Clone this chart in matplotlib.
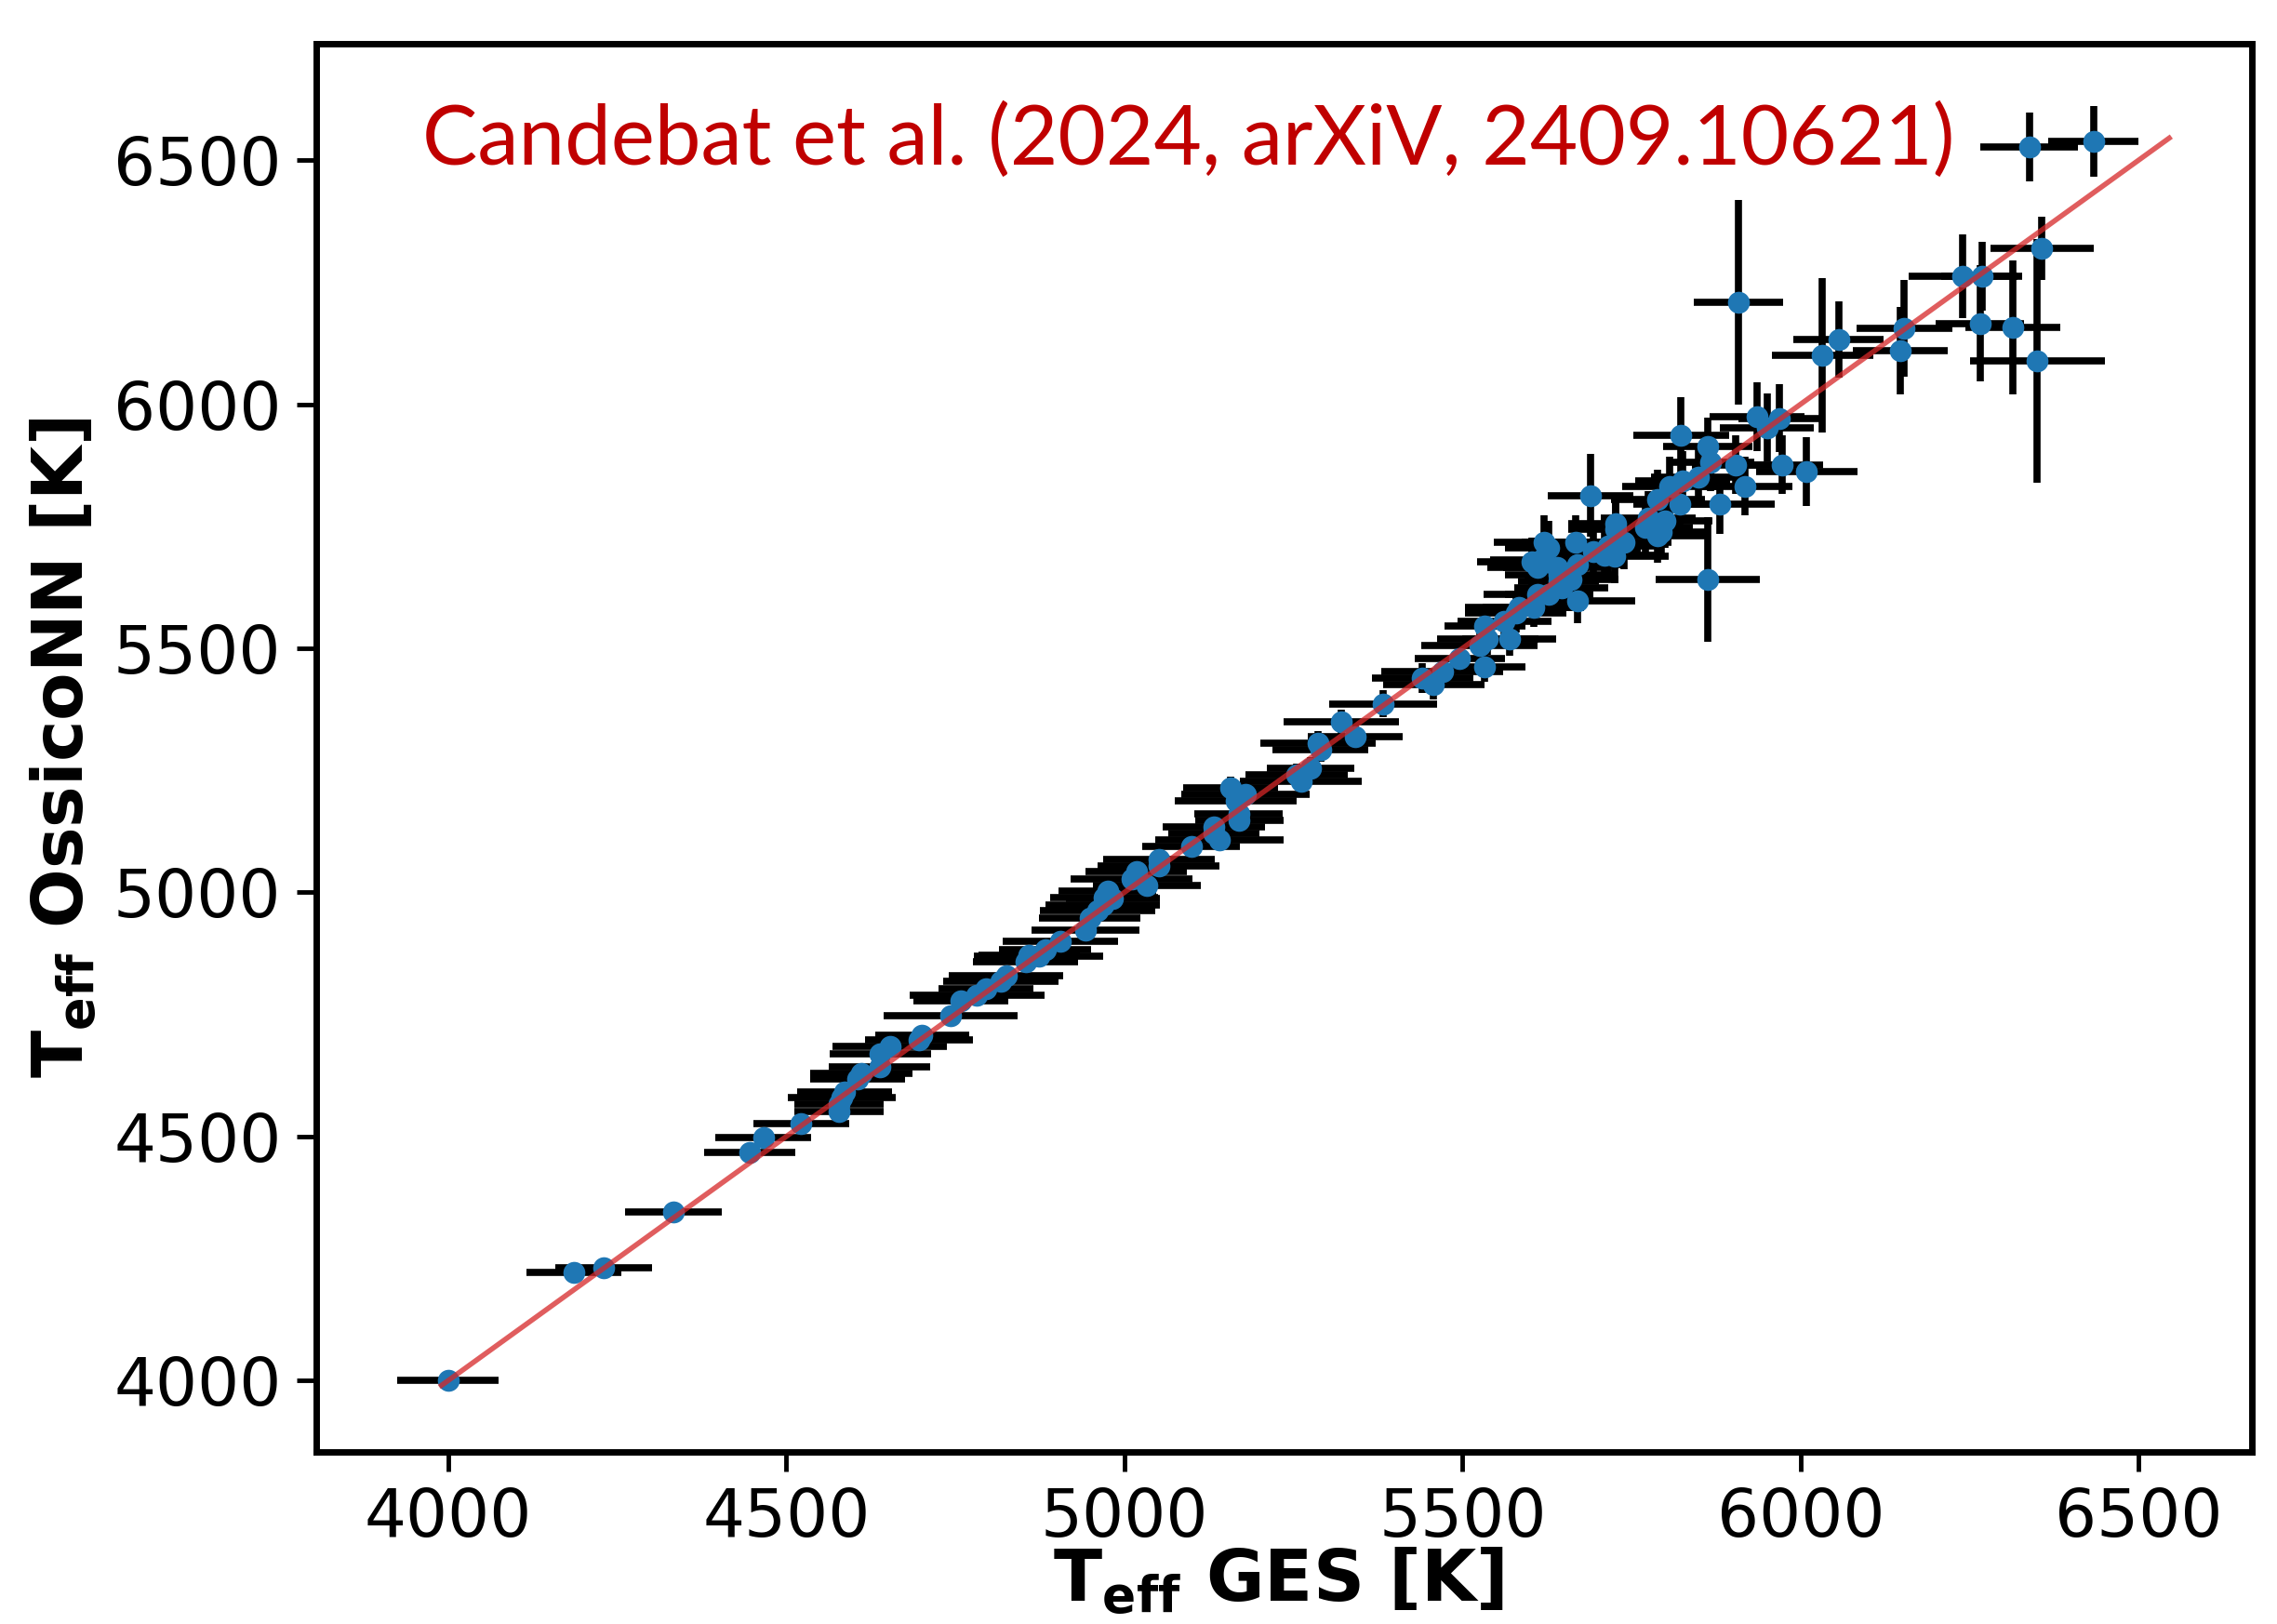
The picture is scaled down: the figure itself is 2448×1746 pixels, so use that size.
import matplotlib
matplotlib.use("Agg")
from matplotlib import pyplot as plt

# Teff from GES (x) and from OssicoNN (y), with their errors
teff_ges = [4000, 4186, 4230, 4333, 4446, 4466, 4522, 4578, 4578, 4582,
            4586, 4605, 4611, 4638, 4639, 4653, 4696, 4701, 4743, 4758,
            4782, 4795, 4817, 4825, 4854, 4859, 4873, 4883, 4905, 4942,
            4949, 4960, 4968, 4970, 4975, 4983, 5011, 5018, 5033, 5051,
            5051, 5099, 5132, 5132, 5141, 5157, 5165, 5169, 5170, 5179,
            5255, 5261, 5275, 5286, 5290, 5321, 5341, 5383, 5441, 5457,
            5470, 5496, 5525, 5533, 5533, 5537, 5562, 5569, 5579, 5583,
            5602, 5605, 5611, 5611, 5616, 5621, 5628, 5628, 5640, 5642,
            5643, 5646, 5661, 5667, 5670, 5670, 5689, 5693, 5710, 5716,
            5725, 5726, 5726, 5739, 5771, 5775, 5789, 5789, 5794, 5799,
            5806, 5822, 5823, 5825, 5849, 5862, 5863, 5867, 5881, 5904,
            5908, 5918, 5936, 5950, 5968, 5973, 6009, 6032, 6056, 6147,
            6153, 6240, 6265, 6268, 6314, 6338, 6350, 6357, 6433]
teff_nn = [4000, 4221, 4232, 4345, 4468, 4497, 4527, 4552, 4567, 4579,
           4592, 4617, 4630, 4643, 4670, 4684, 4697, 4708, 4748, 4777,
           4790, 4803, 4817, 4830, 4857, 4872, 4870, 4882, 4899, 4923,
           4948, 4962, 4975, 4990, 5002, 4988, 5028, 5042, 5015, 5055,
           5068, 5095, 5121, 5135, 5108, 5215, 5188, 5161, 5148, 5201,
           5241, 5228, 5255, 5306, 5293, 5350, 5318, 5386, 5439, 5426,
           5453, 5479, 5506, 5462, 5546, 5519, 5556, 5519, 5573, 5584,
           5677, 5584, 5611, 5666, 5681, 5717, 5611, 5706, 5666, 5637,
           5651, 5624, 5641, 5717, 5597, 5672, 5813, 5698, 5691, 5710,
           5688, 5744, 5756, 5717, 5748, 5767, 5731, 5805, 5738, 5761,
           5832, 5795, 5936, 5843, 5851, 5913, 5641, 5881, 5795, 5876,
           6209, 5832, 5974, 5952, 5971, 5876, 5862, 6100, 6133, 6110,
           6155, 6262, 6165, 6262, 6157, 6527, 6089, 6319, 6538]
err_ges = [75, 70, 71, 71, 67, 71, 71, 66, 66, 80,
           70, 70, 75, 75, 75, 85, 80, 70, 99, 70,
           100, 70, 85, 85, 78, 75, 95, 68, 85, 80,
           75, 85, 85, 80, 72, 70, 90, 75, 80, 90,
           82, 72, 67, 76, 95, 70, 90, 65, 65, 95,
           76, 90, 65, 85, 71, 85, 70, 80, 75, 75,
           90, 67, 86, 60, 60, 75, 70, 70, 75, 80,
           80, 75, 80, 75, 75, 75, 65, 65, 80, 60,
           80, 70, 70, 80, 85, 70, 63, 70, 80, 70,
           80, 70, 70, 70, 70, 70, 70, 70, 70, 70,
           70, 70, 71, 70, 70, 66, 77, 65, 80, 65,
           66, 70, 70, 70, 60, 60, 75, 75, 67, 70,
           71, 80, 65, 60, 70, 72, 100, 76, 67]
err_nn = [12, 10, 10, 10, 12, 12, 12, 12, 12, 12,
          12, 12, 12, 12, 12, 12, 12, 12, 14, 14,
          14, 14, 14, 14, 14, 14, 14, 14, 15, 15,
          15, 15, 15, 15, 15, 15, 18, 18, 18, 18,
          18, 20, 20, 20, 20, 22, 22, 20, 20, 22,
          22, 22, 22, 25, 25, 25, 25, 28, 30, 30,
          30, 30, 32, 30, 35, 32, 35, 35, 40, 40,
          50, 40, 45, 50, 50, 55, 45, 55, 50, 45,
          50, 45, 50, 55, 45, 50, 85, 55, 55, 55,
          55, 55, 55, 55, 55, 55, 55, 60, 55, 55,
          60, 60, 79, 60, 60, 60, 127, 60, 60, 60,
          210, 60, 70, 70, 70, 60, 70, 158, 78, 90,
          99, 86, 119, 70, 137, 71, 250, 65, 73]

# one-to-one line
line_x = [3990, 6545]

x_ticks = [4000, 4500, 5000, 5500, 6000, 6500]
y_ticks = [4000, 4500, 5000, 5500, 6000, 6500]

fig = plt.figure(figsize=(24.48, 17.46), dpi=100)
ax = fig.add_axes([0.1389, 0.106, 0.850, 0.867])

ax.errorbar(teff_ges, teff_nn, xerr=err_ges, yerr=err_nn, fmt='o',
            color='#1f77b4', ms=17, mew=0, ecolor='black', elinewidth=5.5,
            capsize=0)
ax.plot(line_x, line_x, color='#d62728', lw=4, alpha=0.75, zorder=5)

ax.set_xlim(3805, 6667)
ax.set_ylim(3854, 6738)
ax.set_xticks(x_ticks)
ax.set_yticks(y_ticks)
ax.tick_params(labelsize=51, length=15, width=3.5, pad=12)
for s in ax.spines.values():
    s.set_linewidth(5)

ax.set_xlabel(r'T$_{\mathbf{eff}}$ GES [K]', fontsize=55, fontweight='bold')
ax.set_ylabel(r'T$_{\mathbf{eff}}$ OssicoNN [K]', fontsize=54, fontweight='bold')
ax.xaxis.set_label_coords(0.497, -0.066)
ax.yaxis.set_label_coords(-0.112, 0.5)

ax.text(0.0548, 0.914, 'Candebat et al. (2024, arXiV, 2409.10621)',
        transform=ax.transAxes, ha='left', va='baseline',
        fontsize=64, color='#C00000', family=['Lato', 'DejaVu Sans'])

fig.savefig('out.png', dpi=100)
